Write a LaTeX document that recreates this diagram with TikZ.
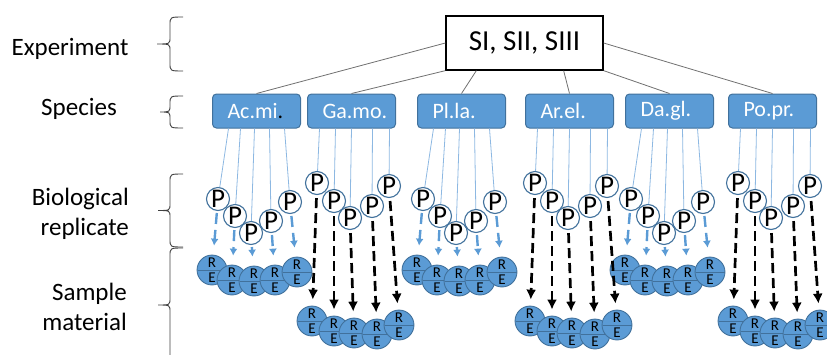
\documentclass[tikz,border=0pt]{standalone}
\usepackage{fontspec}
\setmainfont{Carlito}
\usetikzlibrary{shapes,arrows.meta}

\definecolor{boxblue}{HTML}{5B9BD5}
\definecolor{edgeblue}{HTML}{41719C}
\definecolor{thinblue}{HTML}{8DB8E2}
\definecolor{linkgrey}{HTML}{707070}

\newcommand{\levelbrace}[3]{%
	\pgfmathsetmacro{\bmid}{(#1+#2)/2}%
	\draw[bracket] (183,#1) .. controls (170,#1) .. (170,#1+8) -- (170,\bmid-7)
		.. controls (170,\bmid) .. (#3,\bmid) .. controls (170,\bmid) .. (170,\bmid+7)
		-- (170,#2-8) .. controls (170,#2) .. (183,#2);%
}

\begin{document}
\begin{tikzpicture}[x=1pt,y=-1pt]
	\tikzset{
		lvltext/.style={font=\fontsize{25}{30}\selectfont, inner sep=0pt},
		expbox/.style={draw, line width=1.3pt, fill=white, minimum width=157pt, minimum height=54pt, font=\fontsize{29}{32}\selectfont},
		species/.style={draw=edgeblue, line width=1pt, fill=boxblue, rounded corners=4pt, text=white, font=\fontsize{22}{24}\selectfont, text width=58pt, inner xsep=15pt, minimum height=34pt, align=left, anchor=west},
		link/.style={draw=linkgrey, line width=0.8pt},
		feed/.style={draw=thinblue, line width=0.8pt},
		rep/.style={circle, draw=edgeblue, line width=1.1pt, fill=white, inner sep=0pt, minimum size=23pt, font=\fontsize{27}{27}\selectfont},
		sample/.style={circle split, draw=edgeblue, line width=0.9pt, fill=boxblue, inner xsep=1pt, inner ysep=2pt, minimum size=28pt, font=\fontsize{15}{15}\selectfont},
		bluearrow/.style={draw=boxblue, line width=2.4pt, dash pattern=on 11pt off 6pt, -{Latex[length=7pt,width=8pt]}, shorten <=2pt, shorten >=9pt},
		blackarrow/.style={draw=black, line width=2.7pt, dash pattern=on 10pt off 5pt, -{Latex[length=10pt,width=10pt]}, shorten <=3pt, shorten >=6pt},
		bracket/.style={draw=black!75, line width=0.9pt}
	}
	\useasboundingbox (0,0) rectangle (827,354);

	% level labels and braces
	\node[lvltext, anchor=base] (lexp) at (70,55) {Experiment};
	\node[lvltext, anchor=base] (lsp) at (79,115) {Species};
	\node[lvltext, anchor=east, align=right] (lbio) at (129,214) {Biological\\replicate};
	\node[lvltext, anchor=east, align=right] (lsam) at (127,307) {Sample\\material};
	\levelbrace{17}{71}{157}
	\levelbrace{96}{128}{160}
	\levelbrace{174}{247}{158}
	\levelbrace{248}{362}{158}

	% experiment and species
	\node[expbox] (si) at (524.5,43) {SI, SII, SIII};
	\node[species] (am) at (212,111) {Ac.mi\textcolor{black}{.}};
	\node[species] (gm) at (307,111) {Ga.mo.};
	\node[species] (pl) at (417,111) {Pl.la.};
	\node[species] (ae) at (525,111) {Ar.el.};
	\node[species] (dg) at (625,111) {Da.gl.};
	\node[species] (pp) at (728,111) {Po.pr.};
	\path[link]
		(si.west) edge (am.north)
		(si.south west) edge (gm.north)
		([xshift=31pt]si.south west) edge (pl.north)
		([xshift=-40pt]si.south east) edge (ae.north)
		(si.south east) edge (dg.north)
		(si.east) edge (pp.north);

	% replicates and samples, blue groups
	\foreach \grp/\cx in {am/256, pl/461, dg/669} {
		\foreach \i/\lx/\px/\py/\sx/\sy in {1/-28/-38/199/-44/270, 2/-16/-21/216/-24/280, 3/-2/-5/233/-2/281, 4/13/15/221/19/280, 5/28/34/202/41/272} {
			\node[rep] (\grp p\i) at ({\cx+(\px)},\py) {P};
			\draw[feed] ([xshift=\lx pt]\grp.south) -- (\grp p\i);
			\node[sample] (\grp s\i) at ({\cx+(\sx)},\sy) {R\nodepart{lower}E};
			\draw[bluearrow] (\grp p\i) -- (\grp s\i);
		}
	}
	% replicates and samples, black groups
	\foreach \grp/\cx in {gm/351, ae/569, pp/772} {
		\foreach \i/\lx/\px/\py/\sx/\sy in {1/-32/-34/183/-39/321, 2/-16/-17/201/-17/331, 3/0/-1/218/3/333, 4/21/21/206/26/334, 5/38/38/186/48/325} {
			\node[rep] (\grp p\i) at ({\cx+(\px)},\py) {P};
			\draw[feed] ([xshift=\lx pt]\grp.south) -- (\grp p\i);
			\node[sample] (\grp s\i) at ({\cx+(\sx)},\sy) {R\nodepart{lower}E};
			\draw[blackarrow] (\grp p\i) -- (\grp s\i);
		}
	}
\end{tikzpicture}
\end{document}
